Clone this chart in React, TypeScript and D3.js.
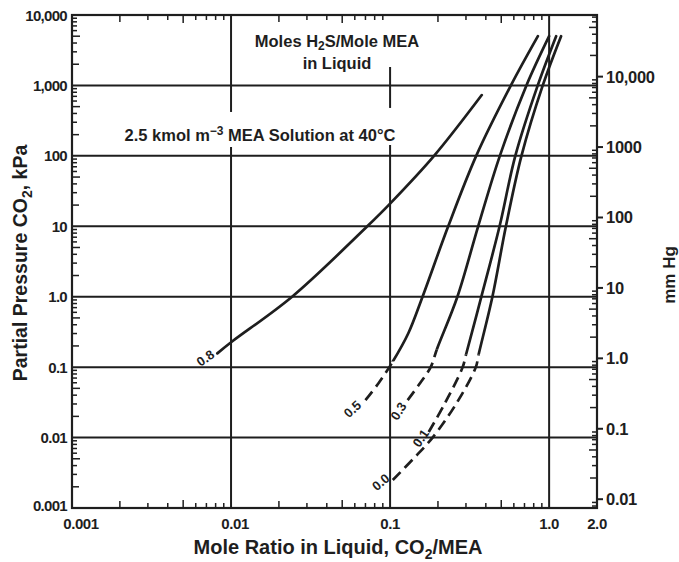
import React from 'react';
import * as d3 from 'd3';

const width = 679;
const height = 562;
const plot = { left: 72, right: 597, top: 15, bottom: 508 };
const ink = '#1e1e1e';
const font = '"Liberation Sans", Arial, sans-serif';

const KPA_TO_MMHG = 7.50062;

const leftTickValues = [0.001, 0.01, 0.1, 1, 10, 100, 1000, 10000];
const leftTickLabels = ['0.001', '0.01', '0.1', '1.0', '10', '100', '1,000', '10,000'];
const bottomTickValues = [0.001, 0.01, 0.1, 1, 2];
const bottomTickLabels = ['0.001', '0.01', '0.1', '1.0', '2.0'];
const rightTickValues = [0.01, 0.1, 1, 10, 100, 1000, 10000];
const rightTickLabels = ['0.01', '0.1', '1.0', '10', '100', '1000', '10,000'];

// H2S loading of each curve
const curveNames = ['0.8', '0.5', '0.3', '0.1', '0.0'];
// [CO2/MEA, kPa]
const curve08: [number, number][] = [[0.0082, 0.157], [0.0101, 0.229], [0.0242, 1], [0.0719, 10], [0.1, 21], [0.189, 100], [0.377, 730]];
const curve05: [number, number][] = [[0.07, 0.034], [0.085, 0.06], [0.104, 0.12], [0.13, 0.3], [0.16, 1], [0.232, 10], [0.348, 100], [0.575, 1000], [0.85, 5000]];
const curve03: [number, number][] = [[0.129, 0.034], [0.155, 0.06], [0.18, 0.1], [0.197, 0.18], [0.265, 1], [0.358, 10], [0.49, 100], [0.72, 1000], [1.0, 5000]];
const curve01: [number, number][] = [[0.175, 0.012], [0.22, 0.03], [0.286, 0.1], [0.3, 0.15], [0.375, 1], [0.488, 10], [0.613, 100], [0.848, 1000], [1.107, 5000]];
const curve00: [number, number][] = [[0.104, 0.0025], [0.14, 0.005], [0.185, 0.01], [0.26, 0.03], [0.346, 0.1], [0.36, 0.15], [0.44, 1], [0.535, 10], [0.67, 100], [0.912, 1000], [1.189, 5000]];
const curves = [curve08, curve05, curve03, curve01, curve00];
// below this pressure (kPa) the curve is dashed (extrapolated)
const dashedBelow = [0, 0.12, 0.18, 0.15, 0.15];
// label anchor [x, kPa, angle]
const labelPos: [number, number, number][] = [[0.0069, 0.134, -35], [0.058, 0.0253, -42], [0.113, 0.0237, -58], [0.156, 0.0098, -55], [0.0873, 0.00232, -40]];

// vertical grid segments [x, kPa from, kPa to] (broken where the notes sit)
const vGrid: [number, number, number][] = [
  [0.01, 0.001, 134], [0.01, 420, 10000],
  [0.1, 0.001, 143], [0.1, 479, 1827],
  [1, 0.001, 10000],
];
const hGrid = [0.01, 0.1, 1, 10, 100, 1000];

const x = d3.scaleLog().domain([0.001, 2]).range([plot.left, plot.right]);
const y = d3.scaleLog().domain([0.001, 10000]).range([plot.bottom, plot.top]);
const yHg = d3.scaleLog().domain([0.001 * KPA_TO_MMHG, 10000 * KPA_TO_MMHG]).range([plot.bottom, plot.top]);

function minors(lo: number, hi: number, max: number) {
  const out: { v: number; m: number }[] = [];
  for (let e = lo; e < hi; e++) {
    for (let m = 2; m <= 9; m++) {
      const v = m * Math.pow(10, e);
      if (v < max) out.push({ v, m });
    }
  }
  return out;
}

const tickLen = (m: number) => (m === 5 ? 8 : m === 2 ? 7 : 5);

export default function App() {
  const line = d3.line<[number, number]>().x(d => x(d[0])).y(d => y(d[1])).curve(d3.curveCatmullRom.alpha(0.5));
  const xMinor = minors(-3, 0, 1);
  const yMinor = minors(-3, 4, 10000);
  const hgMinor = minors(-3, 5, 10000 * KPA_TO_MMHG).filter(t => t.v > 0.001 * KPA_TO_MMHG);

  return (
    <svg width={width} height={height} style={{ position: 'absolute', left: 0, top: 0, background: '#fff' }} fontFamily={font} fontWeight="bold" fill={ink}>
      <defs>
        {dashedBelow.map((v, i) => v > 0 && (
          <g key={'cp' + i}>
            <clipPath id={`solid${i}`}><rect x={0} y={0} width={width} height={y(v)} /></clipPath>
            <clipPath id={`dash${i}`}><rect x={0} y={y(v)} width={width} height={height - y(v)} /></clipPath>
          </g>
        ))}
      </defs>
      {/* grid */}
      <g stroke={ink} strokeWidth={2}>
        {hGrid.map(v => <line key={'h' + v} x1={plot.left} x2={plot.right} y1={y(v)} y2={y(v)} />)}
        {vGrid.map((s, i) => <line key={'v' + i} x1={x(s[0])} x2={x(s[0])} y1={y(s[1])} y2={y(s[2])} />)}
      </g>
      {/* frame */}
      <rect x={plot.left} y={plot.top} width={plot.right - plot.left} height={plot.bottom - plot.top} fill="none" stroke={ink} strokeWidth={2.2} />
      {/* minor ticks */}
      <g stroke={ink} strokeWidth={1.5}>
        {xMinor.map(t => (
          <g key={'x' + t.v}>
            <line x1={x(t.v)} x2={x(t.v)} y1={plot.bottom} y2={plot.bottom - tickLen(t.m)} />
            <line x1={x(t.v)} x2={x(t.v)} y1={plot.top} y2={plot.top + tickLen(t.m)} />
          </g>
        ))}
        {yMinor.map(t => <line key={'y' + t.v} x1={plot.left} x2={plot.left + tickLen(t.m)} y1={y(t.v)} y2={y(t.v)} />)}
        {hgMinor.map(t => <line key={'r' + t.v} x1={plot.right} x2={plot.right - tickLen(t.m)} y1={yHg(t.v)} y2={yHg(t.v)} />)}
        {rightTickValues.map(v => <line key={'rm' + v} x1={plot.right} x2={plot.right + 6} y1={yHg(v)} y2={yHg(v)} strokeWidth={2} />)}
      </g>
      {/* tick labels */}
      <g fontSize={15} stroke="none">
        {leftTickValues.map((v, i) => (
          <text key={'lt' + v} x={plot.left - 5} y={v === 0.001 ? y(v) - 3 : y(v)} textAnchor="end" dominantBaseline="central" letterSpacing={-0.7}>{leftTickLabels[i]}</text>
        ))}
        {bottomTickValues.map((v, i) => (
          <text key={'bt' + v} x={x(v) + (v === 0.001 ? 9 : v === 0.01 ? 4 : 0)} y={plot.bottom + 15} textAnchor="middle" dominantBaseline="central" letterSpacing={-0.4}>{bottomTickLabels[i]}</text>
        ))}
        {rightTickValues.map((v, i) => (
          <text key={'rt' + v} x={plot.right + 9} y={yHg(v)} dominantBaseline="central" fontSize={16.5} letterSpacing={-0.3}>{rightTickLabels[i]}</text>
        ))}
      </g>
      {/* curves */}
      <g fill="none" stroke={ink} strokeWidth={2.7} strokeLinecap="round">
        {curves.map((pts, i) => dashedBelow[i] > 0 ? (
          <g key={curveNames[i]}>
            <path d={line(pts) || ''} clipPath={`url(#dash${i})`} strokeDasharray="11 6" strokeLinecap="butt" />
            <path d={line(pts) || ''} clipPath={`url(#solid${i})`} />
          </g>
        ) : (
          <path key={curveNames[i]} d={line(pts) || ''} />
        ))}
      </g>
      <g fontSize={13}>
        {labelPos.map((p, i) => (
          <text key={'lb' + i} transform={`translate(${x(p[0])},${y(p[1])}) rotate(${p[2]})`} textAnchor="middle" dominantBaseline="central">{curveNames[i]}</text>
        ))}
      </g>
      {/* notes */}
      <g fontSize={16.5} textAnchor="middle">
        <text x={337} y={47}>Moles H<tspan fontSize={12} dy={3}>2</tspan><tspan dy={-3}>S/Mole MEA</tspan></text>
        <text x={337} y={69}>in Liquid</text>
        <text x={260} y={141}>2.5 kmol m<tspan fontSize={12} dy={-6}>−3</tspan><tspan dy={6}> MEA Solution at 40°C</tspan></text>
      </g>
      {/* axis titles */}
      <g fontSize={20}>
        <text x={338} y={554} textAnchor="middle">Mole Ratio in Liquid, CO<tspan fontSize={14} dy={5}>2</tspan><tspan dy={-5}>/MEA</tspan></text>
        <text transform="translate(27,263) rotate(-90)" textAnchor="middle" fontSize={19.5}>Partial Pressure CO<tspan fontSize={14} dy={5}>2</tspan><tspan dy={-5}>, kPa</tspan></text>
        <text transform="translate(675,275) rotate(-90)" textAnchor="middle" fontSize={17}>mm Hg</text>
      </g>
    </svg>
  );
}
